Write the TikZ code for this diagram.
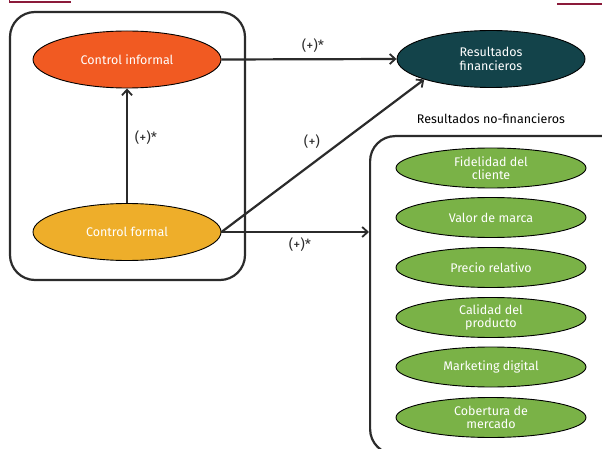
\documentclass[tikz,border=0pt]{standalone}
\usepackage{fontspec}
\setmainfont{Fira Sans}
\usetikzlibrary{shapes.geometric,arrows.meta}
\definecolor{cinf}{HTML}{F15A22}
\definecolor{cform}{HTML}{EEAE2A}
\definecolor{cfin}{HTML}{13434A}
\definecolor{cgreen}{HTML}{7AB247}
\definecolor{cred}{HTML}{8B1A3A}
\definecolor{ctxt}{HTML}{2B2B2B}
\tikzset{
  oval/.style={ellipse, draw=black, line width=0.9pt, minimum width=188pt, minimum height=57pt, inner sep=0pt, text=white, align=center, font=\fontsize{12.5}{13.5}\selectfont},
  gov/.style={oval, fill=cgreen, minimum width=190pt, minimum height=40pt},
  frame/.style={draw=ctxt, line width=2.2pt, rounded corners=25pt},
  conn/.style={draw=ctxt, line width=2.2pt, -{Straight Barb[length=5.5pt,width=10pt,line width=1.8pt]}},
  lbl/.style={text=ctxt, font=\fontsize{14}{15}\selectfont, inner sep=1pt}
}
\begin{document}
\begin{tikzpicture}[x=1pt,y=-1pt]
\useasboundingbox (0,0) rectangle (602,449);
\clip (0,0) rectangle (602,449);
\fill[white] (0,0) rectangle (602,449);
% red rules at top
\draw[cred, line width=1.8pt] (9.5,-2) -- (9.5,2) -- (71,2);
\draw[cred, line width=1.8pt] (557,4.3) -- (605,4.3);
% frames
\draw[frame] (10,12) rectangle (245,280);
\node[frame, draw, minimum width=270pt, minimum height=318pt, anchor=north west] (nonfin) at (369,135) {};
% nodes
\node[oval, fill=cinf] (inf) at (127,59.5) {Control informal};
\node[oval, fill=cform] (form) at (127,232) {Control formal};
\node[oval, fill=cfin] (fin) at (491,59) {Resultados\\financieros};
\node[text=black, font=\fontsize{12.5}{13}\selectfont, inner sep=1pt] (nftitle) at (491,119) {Resultados no-financieros};
\node[gov] (g1) at (491,168) {Fidelidad del\\cliente};
\node[gov] (g2) at (491,217.5) {Valor de marca};
\node[gov] (g3) at (491,267.5) {Precio relativo};
\node[gov] (g4) at (491,317.5) {Calidad del\\producto};
\node[gov] (g5) at (491,367) {Marketing digital};
\node[gov] (g6) at (491,417.5) {Cobertura de\\mercado};
% connectors
\draw[conn] (form.north) -- (inf.south);
\draw[conn] (inf.east) -- (fin.west);
\draw[conn] (form.east) -- (fin.south west);
\draw[conn] (form.east) -- (form.east -| nonfin.west);
% labels
\node[lbl] (l1) at (146,138) {(+)*};
\node[lbl] (l2) at (313,46) {(+)*};
\node[lbl] (l3) at (312,142) {(+)};
\node[lbl] (l4) at (300,245) {(+)*};
\end{tikzpicture}
\end{document}
